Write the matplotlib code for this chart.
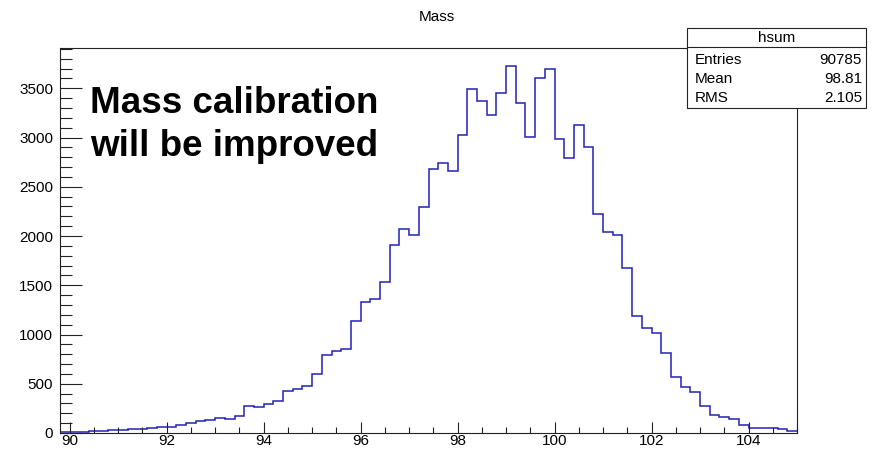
import numpy as np
import matplotlib
matplotlib.use("Agg")
import matplotlib.pyplot as plt
from matplotlib.patches import Rectangle
from matplotlib.lines import Line2D
from matplotlib.ticker import MultipleLocator

plt.rcParams['font.family'] = ['Liberation Sans', 'DejaVu Sans']

# hsum: mass spectrum, 76 bins of 0.2 from 89.8 to 105
bin_lo = 89.8
bin_hi = 105.0
n_bins = 76
counts = [
    12, 14, 15, 16, 25, 26, 27, 38, 40, 55,
    57, 58, 78, 100, 118, 130, 148, 138, 172, 275,
    262, 294, 328, 428, 447, 477, 599, 795, 836, 850,
    1142, 1333, 1360, 1536, 1912, 2075, 2010, 2296, 2684, 2745,
    2664, 3029, 3496, 3374, 3226, 3456, 3723, 3351, 3005, 3608,
    3699, 2985, 2792, 3127, 2909, 2228, 2041, 2014, 1679, 1188,
    1066, 1015, 815, 571, 464, 416, 271, 178, 162, 145,
    84, 54, 54, 53, 37, 20,
]
stats_names = ["Entries", "Mean", "RMS"]
stats_values = ["90785", "98.81", "2.105"]
hist_name = "hsum"
title = "Mass"
note = ["Mass calibration", "will be improved"]

edges = np.linspace(bin_lo, bin_hi, n_bins + 1)

W, H = 873, 449
fig = plt.figure(figsize=(W / 100, H / 100), dpi=100)
ax = fig.add_axes([60 / W, 1 - 433 / H, 737 / W, 385 / H])

ax.stairs(counts, edges, baseline=None, color='#2222b4', linewidth=1.1)
ax.set_xlim(bin_lo, bin_hi)
ax.set_ylim(0, 1.05 * max(counts))

ax.xaxis.set_major_locator(MultipleLocator(2))
ax.xaxis.set_minor_locator(MultipleLocator(0.5))
ax.yaxis.set_major_locator(MultipleLocator(500))
ax.yaxis.set_minor_locator(MultipleLocator(100))
ax.tick_params(axis='both', which='both', direction='in', width=0.8,
               color='#222222', labelsize=11, top=False, right=False)
ax.tick_params(axis='y', which='major', length=15.5, pad=5)
ax.tick_params(axis='y', which='minor', length=8.5)
ax.tick_params(axis='x', which='major', length=7.8, pad=1)
ax.tick_params(axis='x', which='minor', length=4)
for s in ax.spines.values():
    s.set_linewidth(0.8)
    s.set_color('#222222')

fig.text(0.5, 1 - 17 / H, title, ha='center', va='center', fontsize=11)

# annotation in big bold letters
fig.text(90 / W, 1 - 113 / H, note[0], fontsize=26.5, fontweight='bold',
         va='baseline', ha='left')
fig.text(90 / W, 1 - 156 / H, note[1], fontsize=26.5, fontweight='bold',
         va='baseline', ha='left')

# statistics box
bx0, bx1 = 687 / W, 866 / W
by_top, by_bot = 1 - 28 / H, 1 - 108 / H
fig.patches.append(Rectangle((bx0, by_bot), bx1 - bx0, by_top - by_bot,
                             transform=fig.transFigure, facecolor='white',
                             edgecolor='#222222', linewidth=0.8, zorder=5))
fig.lines.append(Line2D([bx0, bx1], [1 - 47 / H] * 2, transform=fig.transFigure,
                        color='#222222', linewidth=0.8, zorder=6))
fig.text((bx0 + bx1) / 2, 1 - 37.5 / H, hist_name, ha='center', va='center',
         fontsize=11, zorder=7)
for i, (name, val) in enumerate(zip(stats_names, stats_values)):
    y = 1 - (60 + 19 * i) / H
    fig.text(695 / W, y, name, ha='left', va='center', fontsize=11, zorder=7)
    fig.text(862 / W, y, val, ha='right', va='center', fontsize=11, zorder=7)

fig.savefig("out.png", dpi=100)
